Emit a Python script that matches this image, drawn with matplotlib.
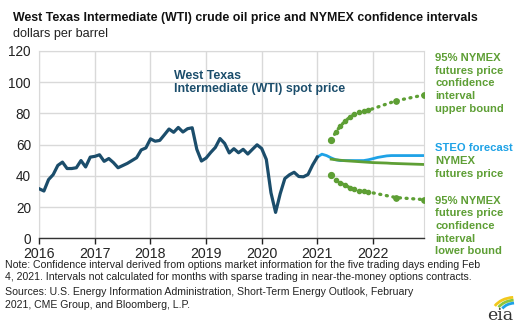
import matplotlib
matplotlib.use("Agg")
import matplotlib.pyplot as plt
from matplotlib.patches import Arc
import numpy as np

plt.rcParams["font.family"] = ["Liberation Sans", "DejaVu Sans"]

# données mensuelles (dollars par baril)
wti_start = 2016.0
wti_spot = [
    31.7, 30.3, 37.6, 40.8, 46.7, 48.8, 44.7, 44.7, 45.2, 49.8, 45.7, 52.0,   # 2016
    52.5, 53.5, 49.3, 51.1, 48.5, 45.2, 46.6, 48.0, 49.8, 51.6, 56.6, 57.9,   # 2017
    63.7, 62.2, 62.7, 66.3, 70.0, 67.9, 71.0, 68.1, 70.2, 70.8, 57.0, 49.5,   # 2018
    51.4, 55.0, 58.2, 63.9, 60.8, 54.7, 57.4, 54.8, 57.0, 54.0, 57.0, 59.9,   # 2019
    57.5, 50.5, 29.2, 16.6, 28.6, 38.3, 40.7, 42.3, 39.6, 39.4, 40.9, 47.0,   # 2020
    52.0,                                                                     # jan 2021
]

steo_start = 2021.0
steo_forecast = [
    52.0, 53.9, 53.0, 51.5, 50.3, 49.8, 49.8, 49.8, 49.8, 49.8, 49.8, 50.3,   # 2021
    51.0, 51.8, 52.3, 52.8, 53.0, 53.0, 53.0, 53.0, 53.0, 53.0, 53.0, 53.0,   # 2022
]

nymex_start = 2021.25
nymex_futures = [
    50.7, 50.3, 50.0, 49.7, 49.5, 49.3, 49.1, 48.9, 48.7,                     # avr-dec 2021
    48.5, 48.4, 48.3, 48.2, 48.0, 47.9, 47.8, 47.7, 47.6, 47.5, 47.4, 47.3,   # 2022
]

# intervalles de confiance : avr-dec 2021, juin 2022, dec 2022
ci_months = [2021.25, 2021.333, 2021.417, 2021.5, 2021.583, 2021.667, 2021.75,
             2021.833, 2021.917, 2022.417, 2022.917]
ci_upper = [62.9, 68.0, 72.0, 75.0, 77.5, 79.5, 80.7, 81.5, 82.0, 88.1, 91.8]
ci_lower = [40.4, 37.5, 35.5, 34.0, 32.5, 31.5, 30.6, 30.0, 29.7, 26.1, 24.8]

years = [2016, 2017, 2018, 2019, 2020, 2021, 2022]
yticks = [0, 20, 40, 60, 80, 100, 120]

DARK = "#1b4d6b"
GREEN = "#5e9f35"
BLUE = "#1ea2e6"


def monthly_x(start, values):
    return start + np.arange(len(values)) / 12.0


fig = plt.figure(figsize=(5.28, 3.23), dpi=100)
ax = fig.add_axes([0.0744, 0.2622, 0.7284, 0.580])

ax.plot(monthly_x(wti_start, wti_spot), wti_spot, color=DARK, lw=2.3,
        solid_joinstyle="round", zorder=4)
ax.plot(monthly_x(steo_start, steo_forecast), steo_forecast, color=BLUE, lw=2.0, zorder=3)
ax.plot(monthly_x(nymex_start, nymex_futures), nymex_futures, color=GREEN, lw=2.0, zorder=3)

for bound in (ci_upper, ci_lower):
    ax.plot(ci_months, bound, color=GREEN, lw=2.4, ls=(0, (0.3, 1.7)),
            dash_capstyle="round", zorder=3)
    ax.plot(ci_months, bound, "o", color=GREEN, ms=3.0, zorder=3)
    ax.plot(ci_months[0], bound[0], "o", color=GREEN, ms=4.2, zorder=3)
    ax.plot(ci_months[-2:], bound[-2:], "o", color=GREEN, ms=3.8, zorder=3)

ax.set_xlim(2016, 2022.917)
ax.set_ylim(0, 120)
ax.set_xticks(years)
ax.set_xticklabels([str(y) for y in years])
ax.set_yticks(yticks)
ax.grid(True, color="#d9d9d9", lw=1)
ax.set_axisbelow(True)
for side in ("top", "right", "left"):
    ax.spines[side].set_color("#d9d9d9")
ax.spines["bottom"].set_color("#333333")
ax.spines["bottom"].set_linewidth(1)
ax.tick_params(axis="y", length=0, labelsize=9.8, pad=6, colors="#222222")
ax.tick_params(axis="x", length=4, width=1, labelsize=10.2, pad=2, colors="#222222")

# textes
fig.text(13 / 528, 1 - 18.5 / 323, "West Texas Intermediate (WTI) crude oil price and NYMEX confidence intervals",
         fontsize=8.95, fontweight="bold", va="center", color="#111111")
fig.text(13 / 528, 1 - 33.5 / 323, "dollars per barrel", fontsize=9.1, va="center", color="#222222")

fig.text(174 / 528, 1 - 82.5 / 323, "West Texas\nIntermediate (WTI) spot price", fontsize=8.9,
         fontweight="bold", color=DARK, va="center", linespacing=1.05)

ann = dict(fontsize=8.1, fontweight="bold", va="center", linespacing=1.32)
fig.text(435 / 528, 1 - 83.5 / 323, "95% NYMEX\nfutures price\nconfidence\ninterval\nupper bound",
         color=GREEN, **ann)
fig.text(435 / 528, 1 - 147.7 / 323, "STEO forecast", color=BLUE, **ann)
fig.text(435 / 528, 1 - 167.5 / 323, "NYMEX\nfutures price", color=GREEN, **ann)
fig.text(435 / 528, 1 - 226 / 323, "95% NYMEX\nfutures price\nconfidence\ninterval\nlower bound",
         color=GREEN, **ann)

fig.text(5 / 528, 1 - 271 / 323,
         "Note: Confidence interval derived from options market information for the five trading days ending Feb\n"
         "4, 2021. Intervals not calculated for months with sparse trading in near-the-money options contracts.",
         fontsize=7.55, va="center", color="#222222", linespacing=1.3)
fig.text(5 / 528, 1 - 298.5 / 323,
         "Sources: U.S. Energy Information Administration, Short-Term Energy Outlook, February\n"
         "2021, CME Group, and Bloomberg, L.P.",
         fontsize=7.55, va="center", color="#222222", linespacing=1.3)

# logo eia
fig.text(500 / 528, 1 - 315 / 323, "eia", fontsize=12.5, family="DejaVu Serif",
         color="#333333", ha="center", va="center")
logo = fig.add_axes([490 / 528, 1 - 314 / 323, 30 / 528, 18 / 323])
logo.set_xlim(0, 1)
logo.set_ylim(0, 1)
logo.axis("off")
for r, c in [(0.55, "#f2c81c"), (0.45, "#8cc63f"), (0.35, "#1ea2e6")]:
    logo.add_patch(Arc((0.85, 0.05), 2 * r * 1.4, 2 * r * 1.6, theta1=95, theta2=150,
                       color=c, lw=2))

fig.savefig("out.png", dpi=100)
